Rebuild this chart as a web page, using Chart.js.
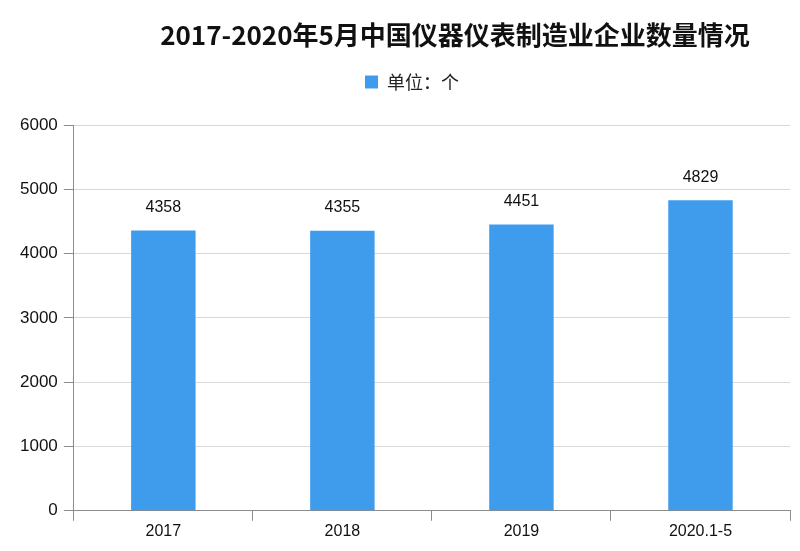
<!DOCTYPE html>
<html>
<head>
<meta charset="utf-8">
<script src="https://cdn.jsdelivr.net/npm/chart.js@4/dist/chart.umd.min.js"></script>
<style>
  html, body { margin: 0; padding: 0; background: #ffffff; }
  #wrap { width: 800px; height: 551px; position: relative; }
</style>
</head>
<body>
<div id="wrap"><canvas id="c" width="800" height="551"></canvas></div>
<script>
const titleText = '2017-2020年5月中国仪器仪表制造业企业数量情况';
const seriesName = '单位：个';
const categories = ['2017', '2018', '2019', '2020.1-5'];
const counts = [4358, 4355, 4451, 4829];
const yMin = 0;
const yMax = 6000;
const yStep = 1000;

const barColor = '#3f9cec';
const numFont = '"Liberation Sans", Arial, sans-serif';
const cjkFont = '"Noto Sans CJK SC", sans-serif';

const titlePlugin = {
  id: 'customTitle',
  afterDraw(chart) {
    const ctx = chart.ctx;
    ctx.save();
    ctx.font = 'bold 26px ' + cjkFont;
    ctx.fillStyle = '#111111';
    ctx.textAlign = 'center';
    ctx.textBaseline = 'middle';
    ctx.fillText(titleText, 455, 35);
    ctx.restore();
  }
};

const legendGapPlugin = {
  id: 'legendGap',
  beforeInit(chart) {
    const lg = chart.legend;
    if (!lg) return;
    const origFit = lg.fit;
    lg.fit = function () {
      origFit.call(this);
      this.height += 24;
    };
  },
  afterLayout(chart) {
    const lg = chart.legend;
    if (!lg) return;
    lg.left += 10;
    lg.right += 10;
  }
};

const valueLabelPlugin = {
  id: 'valueLabels',
  afterDatasetsDraw(chart) {
    const ctx = chart.ctx;
    ctx.save();
    ctx.font = '16px ' + numFont;
    ctx.fillStyle = '#111111';
    ctx.textAlign = 'center';
    ctx.textBaseline = 'bottom';
    chart.data.datasets.forEach((ds, di) => {
      const meta = chart.getDatasetMeta(di);
      meta.data.forEach((bar, i) => {
        ctx.fillText(String(ds.data[i]), bar.x, bar.y - 15);
      });
    });
    ctx.restore();
  }
};

new Chart(document.getElementById('c'), {
  type: 'bar',
  data: {
    labels: categories,
    datasets: [{
      label: seriesName,
      data: counts,
      backgroundColor: barColor,
      borderWidth: 0,
      categoryPercentage: 1.0,
      barPercentage: 0.36
    }]
  },
  plugins: [legendGapPlugin, titlePlugin, valueLabelPlugin],
  options: {
    responsive: false,
    animation: false,
    devicePixelRatio: 1,
    layout: { padding: { left: 14, right: 10, top: 61, bottom: 9 } },
    plugins: {
      title: { display: false },
      tooltip: { enabled: false },
      legend: {
        display: true,
        position: 'top',
        align: 'center',
        labels: {
          boxWidth: 13,
          boxHeight: 13,
          padding: 12,
          color: '#222222',
          font: { family: cjkFont, size: 18 }
        }
      }
    },
    scales: {
      x: {
        offset: true,
        grid: {
          offset: true,
          drawOnChartArea: false,
          drawTicks: true,
          tickLength: 10,
          tickColor: '#8c8c8c'
        },
        border: { display: true, color: '#8c8c8c', width: 1 },
        ticks: {
          color: '#111111',
          padding: 1,
          font: { family: numFont, size: 16 }
        }
      },
      y: {
        min: yMin,
        max: yMax,
        ticks: {
          stepSize: yStep,
          color: '#111111',
          padding: 6,
          font: { family: numFont, size: 17 },
          callback: (v) => String(v)
        },
        grid: {
          color: '#d9d9d9',
          tickColor: '#8c8c8c',
          tickLength: 10
        },
        border: { display: true, color: '#8c8c8c', width: 1 }
      }
    }
  }
});
</script>
</body>
</html>
